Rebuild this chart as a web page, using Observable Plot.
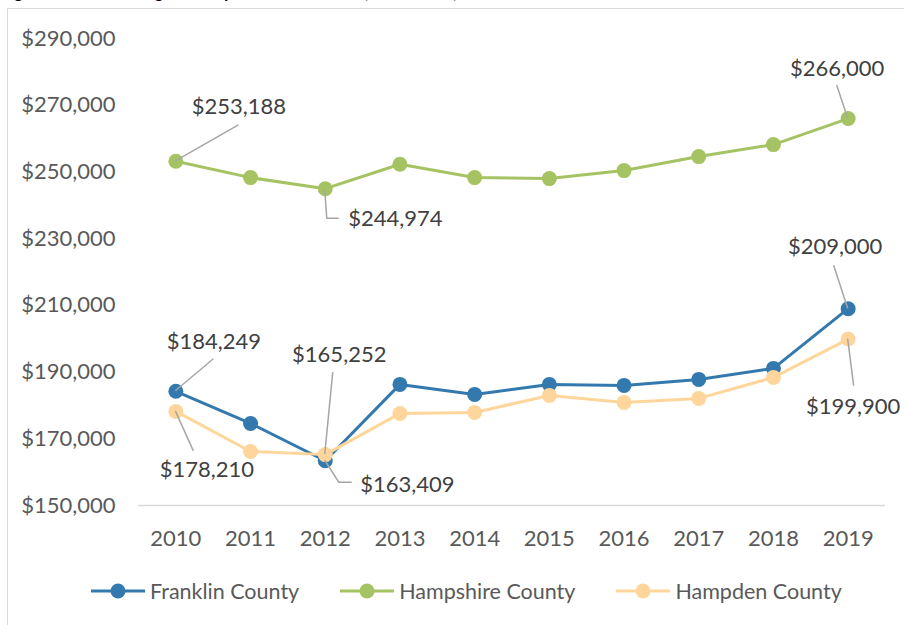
<!DOCTYPE html>
<html><head><meta charset="utf-8">
<script src="https://cdn.jsdelivr.net/npm/d3@7"></script>
<script src="https://cdn.jsdelivr.net/npm/@observablehq/plot@0.6"></script>
<style>
html,body{margin:0;padding:0;width:904px;height:625px;overflow:hidden;background:#fff;font-family:Lato,"Open Sans",sans-serif;}
#title{position:absolute;left:0;top:-19px;font-size:17px;font-weight:bold;color:#000;white-space:nowrap;}
#chart{position:absolute;left:0;top:0;}
#frame{position:absolute;left:7px;top:8px;width:1000px;height:1000px;border:1px solid #d9d9d9;pointer-events:none;}
#legend{position:absolute;left:90px;top:577px;height:28px;display:flex;gap:40px;align-items:center;font-size:21.5px;color:#595959;}
.item{display:flex;align-items:center;gap:4px;}
</style></head><body>
<div id="title">Figure 3: Median Single-Family Home Sale Price (2010-2019)</div>
<div id="chart"></div>
<div id="legend"></div>
<div id="frame"></div>
<script>
const years = [2010, 2011, 2012, 2013, 2014, 2015, 2016, 2017, 2018, 2019];
const franklin  = [184249, 174600, 163409, 186300, 183300, 186300, 186000, 187800, 191100, 209000];
const hampshire = [253188, 248300, 244974, 252300, 248300, 248000, 250400, 254600, 258200, 266000];
const hampden   = [178210, 166200, 165252, 177600, 177900, 183000, 180900, 182100, 188400, 199900];
const counties = ["Franklin County", "Hampshire County", "Hampden County"];
const seriesValues = [franklin, hampshire, hampden];
const colors = ["#3379ae", "#a6c363", "#fed69b"];
const yTicks = [150000, 170000, 190000, 210000, 230000, 250000, 270000, 290000];

// data-label layout: which point, plus pixel offsets of label and leader
const labelled = [
  {s: 1, year: 2010, anchor: "middle", dx: 63, dy: -54, leader: [[0,0],[63,-36]]},
  {s: 1, year: 2012, anchor: "start",  dx: 23, dy: 30,  leader: [[0,2],[2,30],[14,30]]},
  {s: 1, year: 2019, anchor: "middle", dx: -11, dy: -50, leader: [[0,0],[-11,-33]]},
  {s: 0, year: 2019, anchor: "middle", dx: -13, dy: -62, leader: [[0,0],[-14,-43]]},
  {s: 0, year: 2010, anchor: "middle", dx: 38, dy: -49, leader: [[0,0],[38,-32]]},
  {s: 2, year: 2010, anchor: "middle", dx: 31, dy: 59, leader: [[0,0],[18,40]]},
  {s: 2, year: 2012, anchor: "middle", dx: 14, dy: -100, leader: [[0,0],[8,-82]]},
  {s: 0, year: 2012, anchor: "start",  dx: 35, dy: 24, leader: [[0,0],[14,22],[27,22]]},
  {s: 2, year: 2019, anchor: "middle", dx: 5, dy: 68, leader: [[0,0],[6,47]]}
];

const rows = counties.flatMap((c, i) => years.map((y, j) => ({county: c, year: y, value: seriesValues[i][j]})));
const fmt = v => "$" + d3.format(",")(v);
const ann = labelled.map(a => ({...a, county: counties[a.s], value: seriesValues[a.s][years.indexOf(a.year)]}));

const seriesMarks = counties.flatMap(c => {
  const d = rows.filter(r => r.county === c);
  return [
    Plot.line(d, {x: "year", y: "value", stroke: "county", strokeWidth: 3}),
    Plot.dot(d, {x: "year", y: "value", fill: "county", r: 7.5})
  ];
});

const leaderMark = (index, scales) => {
  const g = d3.create("svg:g");
  for (const a of ann) {
    const px = scales.x(a.year), py = scales.y(a.value);
    g.append("path")
      .attr("d", "M" + a.leader.map(([dx, dy]) => `${px + dx},${py + dy}`).join("L"))
      .attr("fill", "none").attr("stroke", "#a6a6a6").attr("stroke-width", 1.5);
  }
  return g.node();
};

const labelMarks = ann.map(a => Plot.text([a], {
  x: "year", y: "value", text: d => fmt(d.value),
  dx: a.dx, dy: a.dy, textAnchor: a.anchor, fill: "#404040", fontSize: 22
}));

const chart = Plot.plot({
  width: 904,
  height: 560,
  marginTop: 38,
  marginBottom: 55,
  marginLeft: 138,
  marginRight: 19,
  style: {fontFamily: "Lato, 'Open Sans', sans-serif", fontSize: "22px", color: "#595959", background: "transparent", overflow: "visible"},
  x: {type: "linear", domain: [2009.5, 2019.5], ticks: years, tickFormat: d => String(d), tickSize: 0, tickPadding: 25, label: null},
  y: {domain: [150000, 290000], ticks: yTicks, tickFormat: fmt, tickSize: 0, tickPadding: 23, label: null},
  color: {domain: counties, range: colors},
  marks: [
    Plot.ruleY([150000], {stroke: "#d9d9d9", strokeWidth: 1.5}),
    ...seriesMarks,
    leaderMark,
    ...labelMarks
  ]
});
document.getElementById("chart").appendChild(chart);

const legend = d3.select("#legend");
counties.forEach((c, i) => {
  const item = legend.append("div").attr("class", "item");
  const sw = item.append("svg").attr("width", 56).attr("height", 18);
  sw.append("line").attr("x1", 1).attr("x2", 55).attr("y1", 9).attr("y2", 9).attr("stroke", colors[i]).attr("stroke-width", 3);
  sw.append("circle").attr("cx", 28).attr("cy", 9).attr("r", 7.5).attr("fill", colors[i]);
  item.append("span").text(c);
});
</script>
</body></html>
